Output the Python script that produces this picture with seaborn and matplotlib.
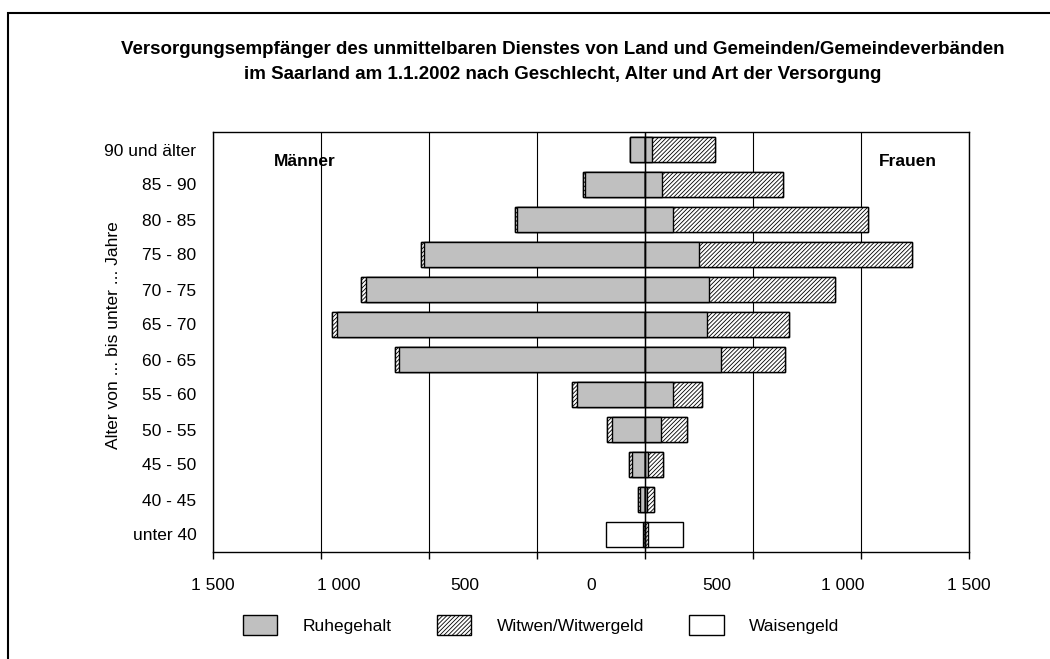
import numpy as np
import pandas as pd
import matplotlib
matplotlib.use("Agg")
import matplotlib.pyplot as plt
from matplotlib.patches import Patch, Rectangle
import seaborn as sns

# ---------------- data ----------------
age_groups = ["90 und älter", "85 - 90", "80 - 85", "75 - 80", "70 - 75", "65 - 70",
              "60 - 65", "55 - 60", "50 - 55", "45 - 50", "40 - 45", "unter 40"]
# Männer
men_ruhegehalt = [69, 280, 593, 1023, 1292, 1427, 1137, 316, 153, 62, 25, 2]
men_witwer     = [2, 6, 8, 12, 21, 20, 19, 23, 23, 12, 7, 9]
men_waisen     = [0, 0, 0, 0, 0, 0, 0, 0, 0, 0, 0, 171]
# Frauen
women_ruhegehalt = [32, 79, 130, 250, 296, 287, 352, 130, 74, 15, 9, 0]
women_witwen     = [292, 560, 903, 986, 583, 380, 296, 134, 120, 69, 32, 14]
women_waisen     = [0, 0, 0, 0, 0, 0, 0, 0, 0, 0, 0, 162]

series_labels = ["Ruhegehalt", "Witwen/Witwergeld", "Waisengeld"]
primary_ticks = list(range(-2000, 1501, 500))
label_ticks = [-1500, -1000, -500, 0, 500, 1000, 1500]

title = ("Versorgungsempfänger des unmittelbaren Dienstes von Land und Gemeinden/Gemeindeverbänden\n"
         "im Saarland am 1.1.2002 nach Geschlecht, Alter und Art der Versorgung")

# ---------------- style ----------------
sns.set_theme(style="white")
plt.rcParams["font.family"] = ["Liberation Sans", "DejaVu Sans"]
plt.rcParams["hatch.linewidth"] = 0.6
plt.rcParams["hatch.color"] = "black"
for k in ("text.color", "axes.labelcolor", "xtick.color", "ytick.color", "axes.edgecolor"):
    plt.rcParams[k] = "black"

GRAY = "#C0C0C0"
HATCH = "////////"
FS = 12.5

fig = plt.figure(figsize=(10.5, 6.59), dpi=100)
fig.patch.set_facecolor("white")
ax = fig.add_axes([213 / 1050, 1 - 552 / 659, 756 / 1050, 420 / 659])

df = pd.DataFrame({
    "age": age_groups,
    "m_r": -np.array(men_ruhegehalt),
    "m_rw": -(np.array(men_ruhegehalt) + np.array(men_witwer)),
    "m_all": -(np.array(men_ruhegehalt) + np.array(men_witwer) + np.array(men_waisen)),
    "w_r": np.array(women_ruhegehalt),
    "w_rw": np.array(women_ruhegehalt) + np.array(women_witwen),
    "w_all": np.array(women_ruhegehalt) + np.array(women_witwen) + np.array(women_waisen),
})

common = dict(y="age", data=df, order=age_groups, orient="h", width=0.71,
              errorbar=None, saturation=1, edgecolor="black", linewidth=1.0,
              ax=ax, zorder=3)
for side in ("m", "w"):
    sns.barplot(x=f"{side}_all", color="white", **common)
    sns.barplot(x=f"{side}_rw", color="white", hatch=HATCH, **common)
    sns.barplot(x=f"{side}_r", color=GRAY, **common)

ax.set_xlim(-2000, 1500)
ax.set_ylim(len(age_groups) - 0.5, -0.5)
ax.set_xticks(primary_ticks)
ax.tick_params(axis="x", which="both", bottom=True, top=False, direction="out",
               length=5, width=1, color="black", labelbottom=False)
ax.tick_params(axis="y", length=0, pad=12, labelsize=FS, labelcolor="black")
ax.set_xlabel("")
ax.set_ylabel("")
ax.grid(axis="x", color="black", linewidth=0.8)
ax.grid(axis="y", visible=False)
ax.set_axisbelow(True)
ax.axvline(0, color="black", linewidth=1.0, zorder=5)
for s in ax.spines.values():
    s.set_visible(True)
    s.set_color("black")
    s.set_linewidth(1.0)

# secondary axis carrying the printed labels
ax2 = ax.twiny()
ax2.set_xlim(-1500, 1500)
ax2.set_xticks(label_ticks)
ax2.set_xticklabels([f"{abs(v):,}".replace(",", " ") for v in label_ticks])
ax2.xaxis.set_ticks_position("bottom")
ax2.xaxis.set_label_position("bottom")
ax2.tick_params(axis="x", length=0, pad=19, labelsize=FS, labelcolor="black")
for s in ax2.spines.values():
    s.set_visible(False)
ax2.grid(False)

ax.text(274 / 1050, 1 - 162 / 659, "Männer", transform=fig.transFigure,
        fontsize=FS, fontweight="bold", ha="left", va="center", color="black")
ax.text(879 / 1050, 1 - 162 / 659, "Frauen", transform=fig.transFigure,
        fontsize=FS, fontweight="bold", ha="left", va="center", color="black")

fig.text(563 / 1050, 1 - 62 / 659, title, ha="center", va="center",
         fontsize=13.5, fontweight="bold", linespacing=1.68, color="black")
fig.text(113 / 1050, 1 - 335 / 659, "Alter von ... bis unter ... Jahre",
         rotation=90, ha="center", va="center", fontsize=FS, color="black")

handles = [Patch(facecolor=GRAY, edgecolor="black", linewidth=1),
           Patch(facecolor="white", edgecolor="black", hatch=HATCH, linewidth=1),
           Patch(facecolor="white", edgecolor="black", linewidth=1)]
fig.legend(handles, series_labels, loc="center", bbox_to_anchor=(541 / 1050, 1 - 625 / 659),
           ncol=3, frameon=False, fontsize=FS, handlelength=2.0, handleheight=1.4,
           handletextpad=1.45, columnspacing=2.6, labelcolor="black")

fig.add_artist(Rectangle((8 / 1050, -0.05), 1.2, 1.05 - 13 / 659, transform=fig.transFigure,
                         fill=False, edgecolor="black", linewidth=1.5))

fig.savefig("out.png", dpi=100, facecolor="white")
